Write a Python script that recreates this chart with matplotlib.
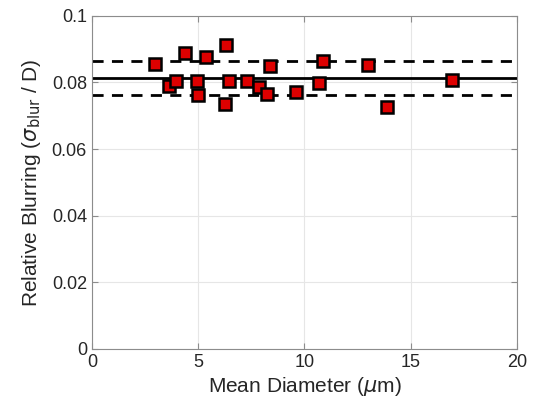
import numpy as np
import matplotlib
matplotlib.use('Agg')
import matplotlib.pyplot as plt

# data
diameter = [2.96, 3.62, 3.98, 4.38, 4.93, 5.0, 5.38, 6.29, 6.26, 6.45,
            7.28, 7.86, 8.22, 8.38, 9.59, 10.69, 10.88, 12.99, 13.87, 16.93]
blur = [0.0855, 0.0788, 0.0806, 0.0889, 0.0804, 0.0761, 0.0876, 0.0914, 0.0736, 0.0804,
        0.0806, 0.0785, 0.0764, 0.0850, 0.0772, 0.0797, 0.0864, 0.0854, 0.0726, 0.0808]
mean_val = 0.0814
upper_val = 0.0864
lower_val = 0.0762

plt.rcParams['font.family'] = ['Liberation Sans', 'DejaVu Sans']

fig = plt.figure(figsize=(5.34, 4.08), dpi=100)
ax = fig.add_axes([0.172, 0.145, 0.796, 0.816])

ax.axhline(mean_val, color='black', lw=2.0, zorder=2)
ax.axhline(upper_val, color='black', lw=2.0, ls=(0, (4, 3)), zorder=2)
ax.axhline(lower_val, color='black', lw=2.0, ls=(0, (4, 3)), zorder=2)
ax.plot(diameter, blur, 's', color='#dd0000', markeredgecolor='black',
        markeredgewidth=1.8, markersize=8.5, zorder=3)

ax.set_xlim(0, 20)
ax.set_ylim(0, 0.1)
ax.set_xticks([0, 5, 10, 15, 20])
ax.set_yticks([0, 0.02, 0.04, 0.06, 0.08, 0.1])
ax.set_yticklabels(['0', '0.02', '0.04', '0.06', '0.08', '0.1'])
ax.grid(True, color='#e6e6e6', lw=0.8)
ax.set_axisbelow(True)

for s in ax.spines.values():
    s.set_color('#8c8c8c')
    s.set_linewidth(0.8)
ax.tick_params(direction='in', top=True, right=True, length=4, colors='#8c8c8c',
               labelcolor='#262626', labelsize=13)

ax.set_xlabel(r'Mean Diameter ($\mu$m)', fontsize=15, color='#262626', labelpad=3)
ax.set_ylabel(r'Relative Blurring ($\sigma_{\rm blur}$ / D)', fontsize=15, color='#262626', labelpad=6)

fig.savefig('out.png', dpi=100)
